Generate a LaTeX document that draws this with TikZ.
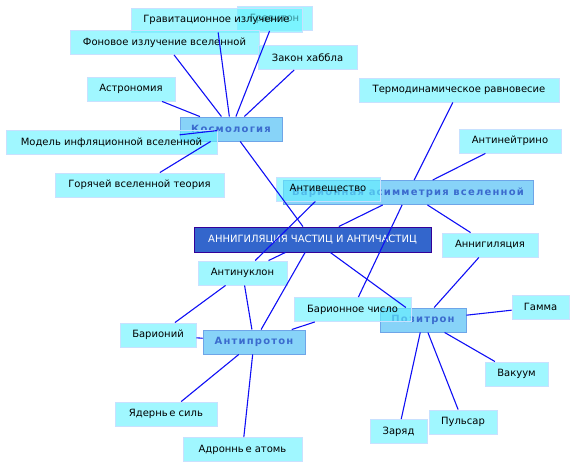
\documentclass[tikz,border=0pt]{standalone}
\usepackage{fontspec}
\setmainfont{DejaVu Sans}
\newfontfamily\hubfont{DejaVu Sans}[LetterSpace=12]
\definecolor{leaffill}{RGB}{97,242,255}
\definecolor{leafborder}{RGB}{200,225,255}
\definecolor{hubfill}{RGB}{55,182,243}
\definecolor{hubborder}{RGB}{110,165,232}
\definecolor{hubtext}{RGB}{59,107,206}
\definecolor{mainfill}{RGB}{51,102,204}
\definecolor{mainborder}{RGB}{51,0,153}
\definecolor{edgecol}{RGB}{15,15,245}
\begin{document}
\begin{tikzpicture}[x=1pt,y=-1pt,
  leaf/.style={draw=leafborder, fill=leaffill, fill opacity=0.6, draw opacity=1, text opacity=1,
    line width=0.9pt, inner sep=0pt, minimum height=24pt, text=black,
    font=\fontsize{10}{12}\selectfont},
  hub/.style={draw=hubborder, fill=hubfill, fill opacity=0.6, draw opacity=1, text opacity=1,
    line width=0.9pt, inner sep=0pt, minimum height=24pt, text=hubtext,
    font=\hubfont\bfseries\fontsize{10}{12}\selectfont},
  mainbox/.style={draw=mainborder, fill=mainfill, line width=0.9pt, inner sep=0pt,
    minimum height=25pt, text=white, font=\fontsize{10}{12}\selectfont},
  link/.style={draw=edgecol, line width=1.1pt}]
\useasboundingbox (0,0) rectangle (576,468);

% nodes (drawing order matters for overlaps)
\node[leaf, minimum width=75pt] (graviton) at (274.5,18.5) {Гравитон};
\node[leaf, minimum width=171pt] (gi) at (216.5,20) {Гравитационное излучение};
\node[leaf, minimum width=189pt] (fon) at (164.5,42.5) {Фоновое излучение вселенной};
\node[leaf, minimum width=99pt] (hubble) at (307.5,57.5) {Закон хаббла};
\node[leaf, minimum width=88pt] (astro) at (131,89) {Астрономия};
\node[hub, minimum width=102pt] (kosmo) at (231,129) {Космология};
\node[leaf, minimum width=211pt] (model) at (111.5,142.5) {Модель инфляционной вселенной};
\node[leaf, minimum width=169pt] (hot) at (139.5,185) {Горячей вселенной теория};
\node[leaf, minimum width=200pt] (thermo) at (459,90) {Термодинамическое равновесие};
\node[leaf, minimum width=102pt] (antineut) at (510,141) {Антинейтрино};
\node[hub, minimum width=250pt] (barasym) at (408,192.5) {Барионная асимметрия вселенной};
\node[leaf, minimum width=104pt] (antimatter) at (328,189) {Антивещество};
\node[mainbox, minimum width=237pt] (main) at (312.5,239.5) {АННИГИЛЯЦИЯ ЧАСТИЦ И АНТИЧАСТИЦ};
\node[leaf, minimum width=96pt] (annig) at (490,245) {Аннигиляция};
\node[leaf, minimum width=89pt] (antinucl) at (242.5,273) {Антинуклон};
\node[hub, minimum width=86pt] (positron) at (423,320) {Позитрон};
\node[leaf, minimum width=117pt] (barnum) at (352.5,309.5) {Барионное число};
\node[leaf, minimum width=57pt] (gamma) at (540.5,307) {Гамма};
\node[leaf, minimum width=76pt] (barionium) at (158,335) {Барионий};
\node[hub, minimum width=102pt] (antiproton) at (254,342) {Антипротон};
\node[leaf, minimum width=63pt] (vacuum) at (516.5,374) {Вакуум};
\node[leaf, minimum width=102pt] (nuclear) at (166,414) {Ядернь\,е силь};
\node[leaf, minimum width=68pt] (pulsar) at (463,422) {Пульсар};
\node[leaf, minimum width=57pt] (zaryad) at (398.5,431.5) {Заряд};
\node[leaf, minimum width=119pt] (hadron) at (242.5,449.5) {Адроннь\,е атомь};

% connectors
\draw[link] (kosmo) -- (gi);
\draw[link] (kosmo) -- (graviton);
\draw[link] (kosmo) -- (fon);
\draw[link] (kosmo) -- (hubble);
\draw[link] (kosmo) -- (astro);
\draw[link] (kosmo) -- (model);
\draw[link] (kosmo) -- (hot);
\draw[link] (kosmo) -- (main);
\draw[link] (barasym) -- (thermo);
\draw[link] (barasym) -- (antineut);
\draw[link] (barasym) -- (annig);
\draw[link] (barasym) -- (main);
\draw[link] (barasym) -- (barnum);
\draw[link] (antimatter) -- (antinucl);
\draw[link] (main) -- (antinucl);
\draw[link] (main) -- (antiproton);
\draw[link] (main) -- (positron);
\draw[link] (positron) -- (annig);
\draw[link] (positron) -- (gamma);
\draw[link] (positron) -- (vacuum);
\draw[link] (positron) -- (pulsar);
\draw[link] (positron) -- (zaryad);
\draw[link] (antiproton) -- (antinucl);
\draw[link] (antiproton) -- (barionium);
\draw[link] (antiproton) -- (barnum);
\draw[link] (antiproton) -- (nuclear);
\draw[link] (antiproton) -- (hadron);
\draw[link] (antinucl) -- (barionium);
\end{tikzpicture}
\end{document}
